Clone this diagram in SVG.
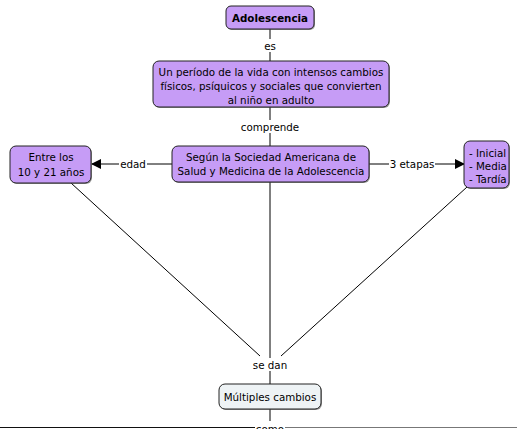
<svg xmlns="http://www.w3.org/2000/svg" width="517" height="429" viewBox="0 0 517 429">
<style>
text{font-family:"DejaVu Sans",Verdana,sans-serif;font-size:10.3px;fill:#000;text-anchor:middle}
.n{fill:#c69cf6;stroke:#222;stroke-width:1}
.g{fill:#eef3f5;stroke:#222;stroke-width:1}
.s{fill:#555;opacity:0.6}
.c{stroke:#000;stroke-width:1;fill:none}
.lbl{fill:#fff}
</style>
<defs>
<marker id="ah" markerWidth="10" markerHeight="10" refX="9" refY="5" orient="auto" markerUnits="userSpaceOnUse">
<path d="M0,0 L10,5 L0,10 z" fill="#000"/>
</marker>
</defs>
<rect width="517" height="429" fill="#fff"/>
<g id="connectors">
<line class="c" x1="270" y1="29" x2="270" y2="61"/>
<line class="c" x1="270" y1="107" x2="270" y2="146"/>
<line class="c" x1="172" y1="164" x2="92" y2="164" marker-end="url(#ah)"/>
<line class="c" x1="369" y1="164" x2="464" y2="164" marker-end="url(#ah)"/>
<line class="c" x1="71" y1="183" x2="260" y2="356"/>
<line class="c" x1="270" y1="182" x2="270" y2="384"/>
<line class="c" x1="467" y1="187" x2="281" y2="356"/>
<line class="c" x1="270" y1="409" x2="270" y2="429"/>
<line x1="0" y1="427.5" x2="255" y2="427.5" stroke="#111"/>
<line x1="285" y1="427.5" x2="517" y2="427.5" stroke="#777"/>
<rect class="lbl" x="262" y="39" width="16" height="13"/>
<text x="270" y="50">es</text>
<rect class="lbl" x="239" y="120" width="62" height="13"/>
<text x="270" y="131">comprende</text>
<rect class="lbl" x="119" y="157" width="28" height="13"/>
<text x="133" y="168">edad</text>
<rect class="lbl" x="389" y="157" width="46" height="13"/>
<text x="412" y="168">3 etapas</text>
<rect class="lbl" x="251" y="358" width="38" height="13"/>
<text x="270" y="369">se dan</text>
<rect class="lbl" x="255" y="421" width="30" height="10"/>
<text x="270" y="433">como</text>
</g>
<g id="n-adolescencia">
<rect class="s" x="227" y="7" width="88" height="23" rx="5"/>
<rect class="n" x="226" y="6" width="88" height="23" rx="5"/>
<text x="270" y="21.5" font-weight="bold">Adolescencia</text>
</g>
<g id="n-periodo">
<rect class="s" x="154" y="62" width="236" height="46" rx="6"/>
<rect class="n" x="153" y="61" width="236" height="46" rx="6"/>
<text x="271" y="76">Un período de la vida con intensos cambios</text>
<text x="271" y="90">físicos, psíquicos y sociales que convierten</text>
<text x="271" y="104">al niño en adulto</text>
</g>
<g id="n-segun">
<rect class="s" x="173" y="147" width="197" height="36" rx="6"/>
<rect class="n" x="172" y="146" width="197" height="36" rx="6"/>
<text x="271" y="161">Según la Sociedad Americana de</text>
<text x="271" y="175">Salud y Medicina de la Adolescencia</text>
</g>
<g id="n-entre">
<rect class="s" x="11" y="147" width="81" height="37" rx="6"/>
<rect class="n" x="10" y="146" width="81" height="37" rx="6"/>
<text x="51" y="161">Entre los</text>
<text x="51" y="176">10 y 21 años</text>
</g>
<g id="n-etapas">
<rect class="s" x="465" y="142" width="45" height="47" rx="6"/>
<rect class="n" x="464" y="141" width="45" height="47" rx="6"/>
<text x="469" y="157" style="text-anchor:start">- Inicial</text>
<text x="469" y="170" style="text-anchor:start">- Media</text>
<text x="469" y="183" style="text-anchor:start">- Tardía</text>
</g>
<g id="n-multiples">
<rect class="s" x="220" y="385" width="102" height="25" rx="6"/>
<rect class="g" x="219" y="384" width="102" height="25" rx="6"/>
<text x="270" y="400.5">Múltiples cambios</text>
</g>
</svg>
